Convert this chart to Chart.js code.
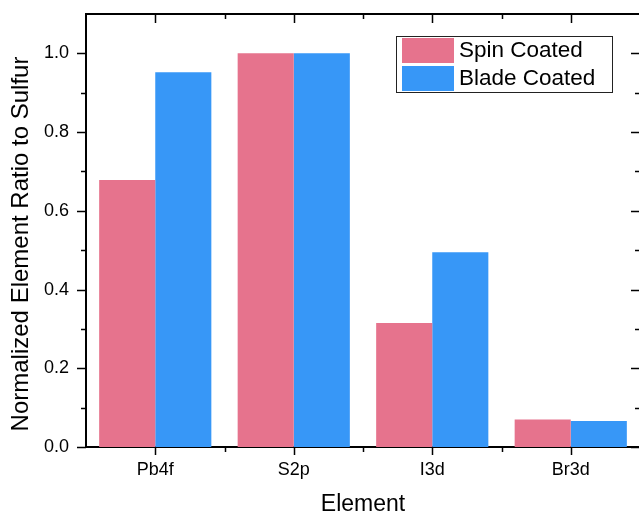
<!DOCTYPE html>
<html>
<head>
<meta charset="utf-8">
<script src="https://cdn.jsdelivr.net/npm/chart.js@4"></script>
<style>
html,body{margin:0;padding:0;background:#fff;overflow:hidden;}
#wrap{width:645px;height:517px;}
</style>
</head>
<body>
<div id="wrap"><canvas id="c" width="645" height="517"></canvas></div>
<script>
const categories = ["Pb4f", "S2p", "I3d", "Br3d"];
const spinCoated = [0.678, 1.0, 0.315, 0.070];
const bladeCoated = [0.952, 1.0, 0.495, 0.066];
const seriesNames = ["Spin Coated", "Blade Coated"];
const yTickValues = [0, 0.2, 0.4, 0.6, 0.8, 1.0];
const yTitle = "Normalized Element Ratio to Sulfur";
const xTitle = "Element";

const PINK = "#E6738D";
const BLUE = "#3797F7";
const FONT = "'Liberation Sans', Arial, sans-serif";

const framePlugin = {
  id: "frame",
  afterDraw(chart) {
    const ctx = chart.ctx;
    const a = chart.chartArea;
    const xs = chart.scales.x, ys = chart.scales.y;
    ctx.save();
    ctx.strokeStyle = "#000";
    ctx.lineWidth = 2;
    ctx.beginPath();
    ctx.moveTo(a.left - 1, a.top); ctx.lineTo(a.right, a.top);
    ctx.moveTo(a.right, a.top); ctx.lineTo(a.right, a.bottom);
    ctx.stroke();
    ctx.lineWidth = 1.5;
    for (let i = 0; i <= 10; i++) {
      const v = i / 10;
      const y = Math.round(ys.getPixelForValue(v)) + 0.5;
      const len = (i % 2 === 0) ? 9 : 5;
      ctx.beginPath();
      ctx.moveTo(a.left - len, y); ctx.lineTo(a.left, y);
      ctx.moveTo(a.right - len, y); ctx.lineTo(a.right, y);
      ctx.stroke();
    }
    const n = categories.length;
    for (let i = 0; i < n; i++) {
      const x = Math.round(xs.getPixelForValue(i)) + 0.5;
      ctx.beginPath();
      ctx.moveTo(x, a.bottom); ctx.lineTo(x, a.bottom + 8);
      ctx.moveTo(x, a.top); ctx.lineTo(x, a.top + 9);
      ctx.stroke();
    }
    for (let i = 1; i < n; i++) {
      const x = Math.round((xs.getPixelForValue(i - 1) + xs.getPixelForValue(i)) / 2) + 0.5;
      ctx.beginPath();
      ctx.moveTo(x, a.bottom); ctx.lineTo(x, a.bottom + 5);
      ctx.moveTo(x, a.top); ctx.lineTo(x, a.top + 5);
      ctx.stroke();
    }
    // y title
    ctx.fillStyle = "#000";
    ctx.font = "24px " + FONT;
    ctx.textAlign = "center";
    ctx.textBaseline = "middle";
    ctx.save();
    ctx.translate(21, 244);
    ctx.rotate(-Math.PI / 2);
    ctx.fillText(yTitle, 0, 0);
    ctx.restore();
    // x title
    ctx.font = "23px " + FONT;
    ctx.fillText(xTitle, (a.left + a.right) / 2, 505);
    // legend
    const lx = 396, ly = 36, lw = 216, lh = 56;
    ctx.fillStyle = "#fff";
    ctx.fillRect(lx, ly, lw, lh);
    ctx.lineWidth = 1;
    ctx.strokeStyle = "#222";
    ctx.strokeRect(lx + 0.5, ly + 0.5, lw, lh);
    const ds = chart.data.datasets;
    ctx.font = "22.5px " + FONT;
    ctx.textBaseline = "middle";
    ctx.textAlign = "left";
    for (let i = 0; i < ds.length; i++) {
      const sy = ly + 2 + i * 28;
      ctx.fillStyle = ds[i].backgroundColor;
      ctx.fillRect(lx + 6, sy, 52, 25);
      ctx.fillStyle = "#000";
      ctx.fillText(ds[i].label, lx + 63, sy + 13);
    }
    ctx.restore();
  }
};

new Chart(document.getElementById("c"), {
  type: "bar",
  data: {
    labels: categories,
    datasets: [
      { label: seriesNames[0], data: spinCoated, backgroundColor: PINK, borderWidth: 0 },
      { label: seriesNames[1], data: bladeCoated, backgroundColor: BLUE, borderWidth: 0 }
    ]
  },
  options: {
    responsive: false,
    animation: false,
    devicePixelRatio: 1,
    layout: { padding: { top: 14, right: 5, left: 0, bottom: 0 } },
    datasets: { bar: { categoryPercentage: 0.81, barPercentage: 1.0 } },
    plugins: { legend: { display: false }, tooltip: { enabled: false } },
    scales: {
      x: {
        grid: { display: false, drawTicks: false },
        border: { display: true, color: "#000", width: 2 },
        ticks: { color: "#000", font: { family: FONT, size: 18 }, padding: 12, maxRotation: 0 },
        title: { display: false },
        afterFit(s) { s.height = 70; s.paddingLeft = 0; s.paddingRight = 0; }
      },
      y: {
        min: 0, max: 1.1,
        afterBuildTicks(s) { s.ticks = yTickValues.map(v => ({ value: v })); },
        grid: { display: false, drawTicks: false },
        border: { display: true, color: "#000", width: 2 },
        ticks: { color: "#000", font: { family: FONT, size: 18 }, padding: 17,
          callback: v => Number(v).toFixed(1) },
        title: { display: false },
        afterFit(s) { s.width = 86; s.paddingTop = 0; s.paddingBottom = 0; }
      }
    }
  },
  plugins: [framePlugin]
});
</script>
</body>
</html>
